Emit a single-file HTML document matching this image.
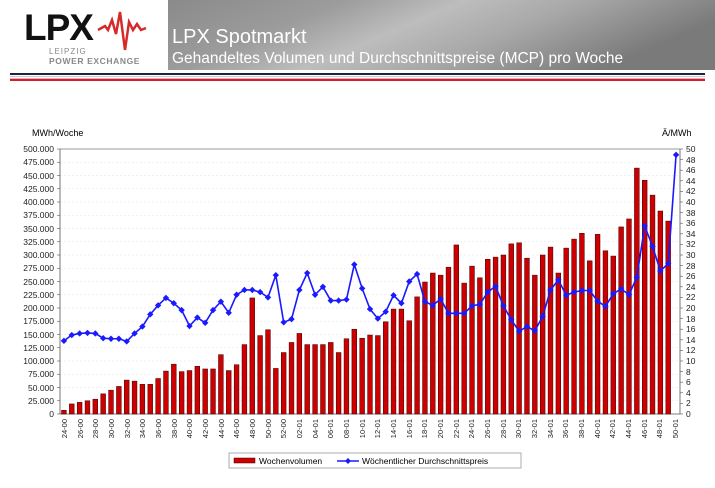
<!DOCTYPE html>
<html><head><meta charset="utf-8"><style>
body{margin:0;background:#fff;width:715px;height:483px;overflow:hidden;font-family:"Liberation Sans",sans-serif}
</style></head><body>
<svg id="s" width="715" height="483" xmlns="http://www.w3.org/2000/svg" font-family="Liberation Sans, sans-serif">
<defs>
<linearGradient id="bg" x1="0" y1="0" x2="1" y2="0.3">
<stop offset="0" stop-color="#8a8a8a"/><stop offset="0.3" stop-color="#9c9c9c"/><stop offset="0.5" stop-color="#bdbdbd"/><stop offset="0.7" stop-color="#a8a8a8"/><stop offset="1" stop-color="#7a7a7a"/>
</linearGradient>
</defs>
<rect x="168" y="0" width="547" height="70" fill="url(#bg)"/>
<text x="24" y="40" font-size="37" font-weight="bold" fill="#111" letter-spacing="-1">LPX</text>
<polyline points="98,30 105,26 108,30 112,20 116,34 120,12 125,50 129,22 133,30 137,24 141,30 146,28" fill="none" stroke="#d42a2a" stroke-width="2.5"/>
<text x="49" y="54" font-size="8" fill="#888" letter-spacing="1">LEIPZIG</text>
<text x="49" y="64" font-size="8.5" fill="#888" font-weight="bold" letter-spacing="0.6">POWER EXCHANGE</text>
<text x="172" y="43" font-size="20" fill="#fff">LPX Spotmarkt</text>
<text x="172" y="63" font-size="15.5" fill="#fff">Gehandeltes Volumen und Durchschnittspreise (MCP) pro Woche</text>
<rect x="10" y="73" width="695" height="2" fill="#1c2340"/>
<rect x="10" y="76" width="695" height="1" fill="#c8c8d0"/>
<rect x="10" y="78" width="695" height="1" fill="#e8b0b0"/>
<rect x="10" y="79" width="695" height="2" fill="#d02030"/>
<text x="32" y="136" font-size="9">MWh/Woche</text>
<text x="662" y="136" font-size="9">Ä/MWh</text>
<g id="grid"></g>
<g id="bars"></g>
<g id="line"></g>
<g font-size="8.5" fill="#222" text-anchor="end">
<text x="54" y="152">500.000</text><text x="54" y="165">475.000</text><text x="54" y="179">450.000</text><text x="54" y="192">425.000</text><text x="54" y="205">400.000</text><text x="54" y="218">375.000</text><text x="54" y="232">350.000</text><text x="54" y="245">325.000</text><text x="54" y="258">300.000</text><text x="54" y="271">275.000</text><text x="54" y="285">250.000</text><text x="54" y="298">225.000</text><text x="54" y="311">200.000</text><text x="54" y="324">175.000</text><text x="54" y="338">150.000</text><text x="54" y="351">125.000</text><text x="54" y="364">100.000</text><text x="54" y="377">75.000</text><text x="54" y="391">50.000</text><text x="54" y="404">25.000</text><text x="54" y="417">0</text>
</g>
<g font-size="8.5" fill="#222" text-anchor="start">
<text x="686" y="152">50</text><text x="686" y="163">48</text><text x="686" y="173">46</text><text x="686" y="184">44</text><text x="686" y="194">42</text><text x="686" y="205">40</text><text x="686" y="216">38</text><text x="686" y="226">36</text><text x="686" y="237">34</text><text x="686" y="247">32</text><text x="686" y="258">30</text><text x="686" y="269">28</text><text x="686" y="279">26</text><text x="686" y="290">24</text><text x="686" y="300">22</text><text x="686" y="311">20</text><text x="686" y="322">18</text><text x="686" y="332">16</text><text x="686" y="343">14</text><text x="686" y="353">12</text><text x="686" y="364">10</text><text x="686" y="375">8</text><text x="686" y="385">6</text><text x="686" y="396">4</text><text x="686" y="406">2</text><text x="686" y="417">0</text>
</g>
<g id="xl" font-size="7.5" fill="#222" text-anchor="end">
<text transform="translate(67,419) rotate(-90)">24-00</text><text transform="translate(83,419) rotate(-90)">26-00</text><text transform="translate(98,419) rotate(-90)">28-00</text><text transform="translate(114,419) rotate(-90)">30-00</text><text transform="translate(130,419) rotate(-90)">32-00</text><text transform="translate(145,419) rotate(-90)">34-00</text><text transform="translate(161,419) rotate(-90)">36-00</text><text transform="translate(177,419) rotate(-90)">38-00</text><text transform="translate(192,419) rotate(-90)">40-00</text><text transform="translate(208,419) rotate(-90)">42-00</text><text transform="translate(224,419) rotate(-90)">44-00</text><text transform="translate(239,419) rotate(-90)">46-00</text><text transform="translate(255,419) rotate(-90)">48-00</text><text transform="translate(271,419) rotate(-90)">50-00</text><text transform="translate(286,419) rotate(-90)">52-00</text><text transform="translate(302,419) rotate(-90)">02-01</text><text transform="translate(318,419) rotate(-90)">04-01</text><text transform="translate(333,419) rotate(-90)">06-01</text><text transform="translate(349,419) rotate(-90)">08-01</text><text transform="translate(365,419) rotate(-90)">10-01</text><text transform="translate(380,419) rotate(-90)">12-01</text><text transform="translate(396,419) rotate(-90)">14-01</text><text transform="translate(412,419) rotate(-90)">16-01</text><text transform="translate(427,419) rotate(-90)">18-01</text><text transform="translate(443,419) rotate(-90)">20-01</text><text transform="translate(459,419) rotate(-90)">22-01</text><text transform="translate(474,419) rotate(-90)">24-01</text><text transform="translate(490,419) rotate(-90)">26-01</text><text transform="translate(506,419) rotate(-90)">28-01</text><text transform="translate(521,419) rotate(-90)">30-01</text><text transform="translate(537,419) rotate(-90)">32-01</text><text transform="translate(553,419) rotate(-90)">34-01</text><text transform="translate(568,419) rotate(-90)">36-01</text><text transform="translate(584,419) rotate(-90)">38-01</text><text transform="translate(600,419) rotate(-90)">40-01</text><text transform="translate(615,419) rotate(-90)">42-01</text><text transform="translate(631,419) rotate(-90)">44-01</text><text transform="translate(647,419) rotate(-90)">46-01</text><text transform="translate(662,419) rotate(-90)">48-01</text><text transform="translate(678,419) rotate(-90)">50-01</text>
</g>
<rect x="229" y="453" width="292" height="15" fill="#fff" stroke="#999" stroke-width="0.8"/>
<rect x="234" y="458" width="21" height="5" fill="#cc0000" stroke="#400" stroke-width="0.5"/>
<text x="259" y="464" font-size="8.5">Wochenvolumen</text>
<line x1="337" y1="461" x2="359" y2="461" stroke="#1a1aff" stroke-width="1.5"/>
<path d="M348 458 L351 461 L348 464 L345 461Z" fill="#1a1aff"/>
<text x="362" y="464" font-size="8.5">Wöchentlicher Durchschnittspreis</text>
</svg>
<script>
var vol=[7,19,22,25,28,38,45,52,64,62,56,56,67,81,94,80,82,90,85,85,112,82,93,131,219,148,159,86,116,135,152,131,131,131,135,116,142,160,143,149,148,174,198,198,176,221,249,266,262,277,319,247,279,257,292,296,300,321,323,294,262,300,315,266,313,330,341,289,339,308,298,353,368,464,441,413,383,364];
var pr=[13.8,14.9,15.2,15.3,15.2,14.3,14.2,14.2,13.7,15.2,16.5,18.8,20.5,21.9,20.9,19.6,16.6,18.2,17.2,19.6,21.2,19.1,22.5,23.4,23.4,23,22,26.2,17.3,17.9,23.4,26.6,22.5,24,21.4,21.4,21.6,28.2,23.7,19.8,18,19.3,22.4,20.9,25,26.4,21.2,20.5,21.7,19,19,19,20.4,20.7,23,24.1,20.4,17.8,15.6,16.5,15.7,18.4,23.4,25.3,22.4,23,23.3,23.3,21.3,20.3,22.7,23.6,22.5,25.8,35.5,31.6,27,28.4,48.9];
var NS="http://www.w3.org/2000/svg";
function el(t,a,p){var e=document.createElementNS(NS,t);for(var k in a)e.setAttribute(k,a[k]);document.getElementById(p).appendChild(e);}
var L=60,R=680,T=149,B=414,n=79,w=(R-L)/n;
for(var i=0;i<=20;i++){var y=T+i*(B-T)/20;el('line',{x1:L,x2:R,y1:y,y2:y,stroke:i==0?'#999':'#e4e4e4','stroke-width':i==0?1:0.6,'stroke-dasharray':i==0?'':'2,2'},'grid');el('line',{x1:L-3,x2:L,y1:y,y2:y,stroke:'#555','stroke-width':0.6},'grid');}
for(var i=0;i<=25;i++){var y=T+i*(B-T)/25;el('line',{x1:R,x2:R+3,y1:y,y2:y,stroke:'#555','stroke-width':0.6},'grid');}
el('line',{x1:L,x2:L,y1:T,y2:B,stroke:'#555','stroke-width':0.8},'grid');
el('line',{x1:R,x2:R,y1:T,y2:B,stroke:'#555','stroke-width':0.8},'grid');
el('line',{x1:L,x2:R,y1:B,y2:B,stroke:'#555','stroke-width':0.8},'grid');
var pts=[];
for(var i=0;i<n;i++){var cx=L+w*(i+0.5);var h=vol[i]*(B-T)/500;el('rect',{x:cx-2.4,y:B-h,width:4.8,height:h,fill:'#cc0000',stroke:'#3a0000','stroke-width':0.5},'bars');
var py=B-pr[i]*(B-T)/50;pts.push(cx+','+py);}
el('polyline',{points:pts.join(' '),fill:'none',stroke:'#1a1aff','stroke-width':1.6},'line');
pts.forEach(function(p){var a=p.split(',');var x=+a[0],y=+a[1];el('path',{d:'M'+x+' '+(y-3.2)+'L'+(x+3.2)+' '+y+'L'+x+' '+(y+3.2)+'L'+(x-3.2)+' '+y+'Z',fill:'#1a1aff'},'line');});
</script>
</body></html>
